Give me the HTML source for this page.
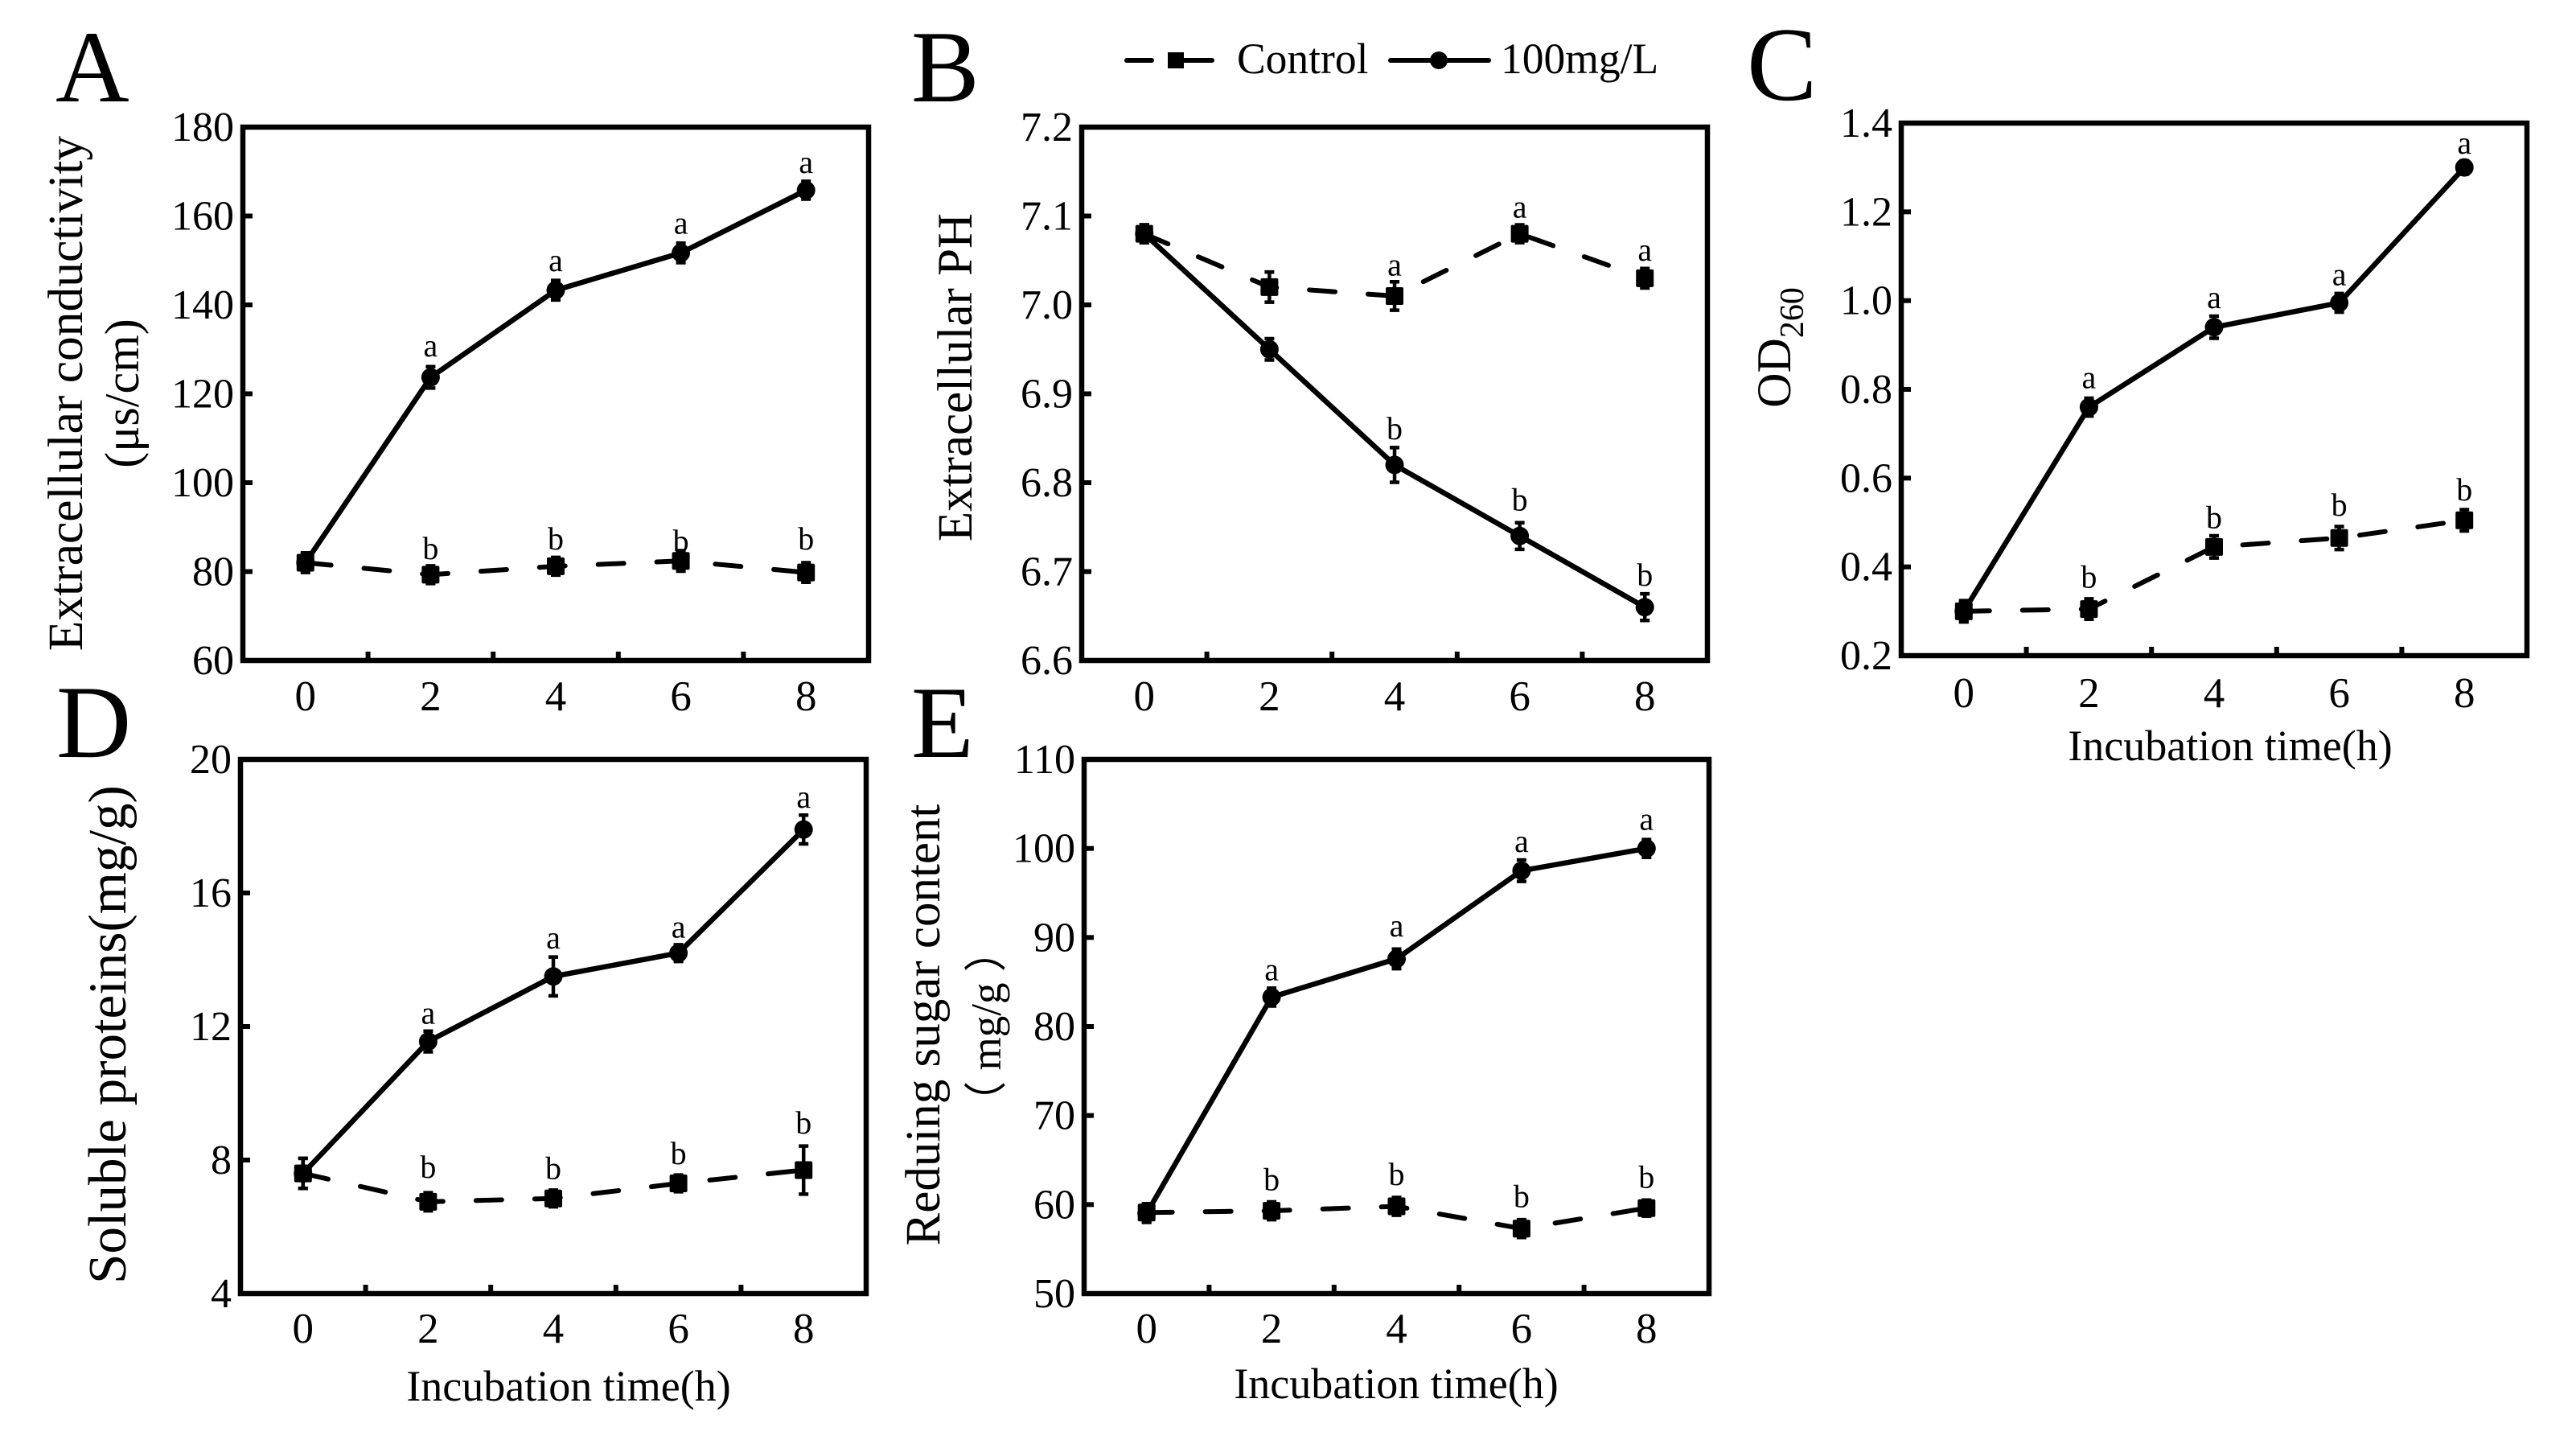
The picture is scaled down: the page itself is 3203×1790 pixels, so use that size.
<!DOCTYPE html>
<html lang="en">
<head>
<meta charset="utf-8">
<title>Incubation time response panels</title>
<style>
  html, body { margin: 0; padding: 0; background: #fff; }
  svg { display: block; }
  text { font-family: "Liberation Serif", "Noto Sans CJK SC", serif; fill: #000; }
</style>
</head>
<body>
<svg id="figure" xmlns="http://www.w3.org/2000/svg" width="3203" height="1790" viewBox="0 0 3203 1790">
  <rect x="0" y="0" width="3203" height="1790" fill="#fff"/>

  <text x="69" y="126" font-size="127">A</text>
  <text x="1133" y="126" font-size="127">B</text>
  <text x="2172" y="124" font-size="131">C</text>
  <text x="70" y="941" font-size="129">D</text>
  <text x="1133" y="941" font-size="127">E</text>

  <g>
    <line x1="1401" y1="75" x2="1432" y2="75" stroke="#000" stroke-width="6" stroke-linecap="round"/>
    <line x1="1462" y1="75" x2="1507" y2="75" stroke="#000" stroke-width="6" stroke-linecap="round"/>
    <rect x="1452" y="65" width="20" height="20" fill="#000"/>
    <text x="1538" y="91" font-size="53.5">Control</text>
    <line x1="1729" y1="75" x2="1851" y2="75" stroke="#000" stroke-width="6" stroke-linecap="round"/>
    <circle cx="1789" cy="75" r="11" fill="#000"/>
    <text x="1866" y="91" font-size="53.5">100mg/L</text>
  </g>

  <text transform="translate(102,489) rotate(-90)" text-anchor="middle" font-size="61.5">Extracellular conductivity</text>
  <text transform="translate(172,489) rotate(-90)" text-anchor="middle" font-size="60">(μs/cm)</text>
  <text transform="translate(1208,469) rotate(-90)" text-anchor="middle" font-size="61">Extracellular PH</text>
  <text transform="translate(2226,432) rotate(-90)" text-anchor="middle" font-size="60">OD<tspan dy="16" font-size="42">260</tspan></text>
  <text transform="translate(156,1286) rotate(-90)" text-anchor="middle" font-size="67">Soluble proteins(mg/g)</text>
  <text transform="translate(1168,1274) rotate(-90)" text-anchor="middle" font-size="61">Reduing sugar content</text>
  <text transform="translate(1244,1276) rotate(-90)" text-anchor="middle" font-size="53">（ mg/g ）</text>

  <text x="2773" y="945" text-anchor="middle" font-size="54">Incubation time(h)</text>
  <text x="707" y="1741" text-anchor="middle" font-size="54">Incubation time(h)</text>
  <text x="1736" y="1738" text-anchor="middle" font-size="54">Incubation time(h)</text>
</svg>

<script>
// Shared x axis
const hours = [0, 2, 4, 6, 8];
const hourTicks = ['0', '2', '4', '6', '8'];
const minorHours = [1, 3, 5, 7];

// Panel A: extracellular conductivity
const aTicks = [60, 80, 100, 120, 140, 160, 180];
const aTickLabels = ['60', '80', '100', '120', '140', '160', '180'];
const aControl = [82, 79.3, 81.2, 82.4, 79.8];
const aControlErr = [2.2, 2, 2, 2.3, 2.2];
const aTreated = [82, 123.7, 143.3, 151.7, 165.8];
const aTreatedErr = [1.8, 2.4, 2.2, 2.2, 2];
const aControlLetters = ['', 'b', 'b', 'b', 'b'];
const aControlLift = [0, 3.5, 3.8, 2, 5.2];
const aTreatedLetters = ['', 'a', 'a', 'a', 'a'];
const aTreatedLift = [0, 4.7, 4.3, 4.3, 3.9];

// Panel B: extracellular pH
const bTicks = [6.6, 6.7, 6.8, 6.9, 7.0, 7.1, 7.2];
const bTickLabels = ['6.6', '6.7', '6.8', '6.9', '7.0', '7.1', '7.2'];
const bControl = [7.08, 7.02, 7.01, 7.08, 7.03];
const bControlErr = [0.01, 0.017, 0.016, 0.01, 0.011];
const bTreated = [7.08, 6.95, 6.82, 6.74, 6.66];
const bTreatedErr = [0.01, 0.012, 0.0195, 0.015, 0.015];
const bControlLetters = ['', '', 'a', 'a', 'a'];
const bControlLift = [0, 0, 0.023, 0.018, 0.02];
const bTreatedLetters = ['', '', 'b', 'b', 'b'];
const bTreatedLift = [0, 0, 0.029, 0.029, 0.024];

// Panel C: OD260
const cTicks = [0.2, 0.4, 0.6, 0.8, 1.0, 1.2, 1.4];
const cTickLabels = ['0.2', '0.4', '0.6', '0.8', '1.0', '1.2', '1.4'];
const cControl = [0.3, 0.305, 0.445, 0.465, 0.505];
const cControlErr = [0.024, 0.023, 0.025, 0.026, 0.024];
const cTreated = [0.3, 0.76, 0.94, 0.995, 1.3];
const cTreatedErr = [0.023, 0.02, 0.025, 0.021, 0.015];
const cControlLetters = ['', 'b', 'b', 'b', 'b'];
const cControlLift = [0, 0.048, 0.042, 0.05, 0.045];
const cTreatedLetters = ['', 'a', 'a', 'a', 'a'];
const cTreatedLift = [0, 0.043, 0.043, 0.04, 0.031];

// Panel D: soluble proteins
const dTicks = [4, 8, 12, 16, 20];
const dTickLabels = ['4', '8', '12', '16', '20'];
const dControl = [7.6, 6.75, 6.85, 7.3, 7.7];
const dControlErr = [0.45, 0.27, 0.25, 0.25, 0.72];
const dTreated = [7.6, 11.55, 13.5, 14.2, 17.9];
const dTreatedErr = [0.45, 0.31, 0.58, 0.25, 0.43];
const dControlLetters = ['', 'b', 'b', 'b', 'b'];
const dControlLift = [0, 0.72, 0.58, 0.58, 1.09];
const dTreatedLetters = ['', 'a', 'a', 'a', 'a'];
const dTreatedLift = [0, 0.53, 0.84, 0.46, 0.65];

// Panel E: reducing sugar content
const eTicks = [50, 60, 70, 80, 90, 100, 110];
const eTickLabels = ['50', '60', '70', '80', '90', '100', '110'];
const eControl = [59.1, 59.3, 59.8, 57.3, 59.6];
const eControlErr = [1, 1, 1, 1, 0.9];
const eTreated = [59, 83.3, 87.6, 97.5, 100];
const eTreatedErr = [1, 1, 1.1, 1.2, 1];
const eControlLetters = ['', 'b', 'b', 'b', 'b'];
const eControlLift = [0, 2.3, 2.4, 2.4, 2.3];
const eTreatedLetters = ['', 'a', 'a', 'a', 'a'];
const eTreatedLift = [0, 1.9, 2.5, 2.1, 2.1];

const SVG_NS = 'http://www.w3.org/2000/svg';
const figure = document.getElementById('figure');

function make(parent, tag, attrs) {
  const el = document.createElementNS(SVG_NS, tag);
  for (const k in attrs) el.setAttribute(k, attrs[k]);
  parent.appendChild(el);
  return el;
}

function drawSeries(g, id, xs, ys, errs, letters, lifts, x, y, filled) {
  const points = xs.map((h, i) => x(h) + ',' + y(ys[i])).join(' ');
  const attrs = { points: points, fill: 'none', stroke: '#000', 'stroke-width': filled ? 6.5 : 6, 'stroke-linejoin': 'round' };
  if (!filled) {
    attrs['stroke-dasharray'] = '32 41';
    attrs['stroke-linecap'] = 'round';
  }
  const line = make(g, 'polyline', attrs);
  
  

  xs.forEach((h, i) => {
    const px = x(h);
    const py = y(ys[i]);
    const top = y(ys[i] + errs[i]);
    const bottom = y(ys[i] - errs[i]);

    const err = make(g, 'path', {
      d: 'M' + px + ' ' + top + 'V' + bottom + 'M' + (px - 6) + ' ' + top + 'H' + (px + 6) + 'M' + (px - 6) + ' ' + bottom + 'H' + (px + 6),
      fill: 'none', stroke: '#000', 'stroke-width': 4.5
    });
    
    

    const marker = filled
      ? make(g, 'circle', { cx: px, cy: py, r: 11.5, fill: '#000' })
      : make(g, 'rect', { x: px - 11, y: py - 11, width: 22, height: 22, rx: 2, fill: '#000' });
    
    

    if (letters[i]) {
      const t = make(g, 'text', { x: px, y: y(ys[i] + lifts[i]), 'text-anchor': 'middle', 'font-size': 40 });
      t.textContent = letters[i];
      
      
    }
  });
}

function drawPanel(cfg) {
  const g = make(figure, 'g', {});
  
  

  const first = cfg.ticks[0];
  const last = cfg.ticks[cfg.ticks.length - 1];
  const x = h => cfg.left + (h + 1) * (cfg.right - cfg.left) / 10;
  const y = v => cfg.bottom - (v - first) * (cfg.bottom - cfg.top) / (last - first);

  const box = make(g, 'rect', {
    x: cfg.left, y: cfg.top, width: cfg.right - cfg.left, height: cfg.bottom - cfg.top,
    fill: 'none', stroke: '#000', 'stroke-width': 6.5
  });
  
  

  cfg.ticks.forEach((v, i) => {
    const tick = make(g, 'line', { x1: cfg.left, x2: cfg.left + 12, y1: y(v), y2: y(v), stroke: '#000', 'stroke-width': 6 });
    
    
    const label = make(g, 'text', { x: cfg.left - 11, y: y(v) + 17, 'text-anchor': 'end', 'font-size': 52 });
    label.textContent = cfg.tickLabels[i];
    
    
  });

  minorHours.forEach(h => {
    const tick = make(g, 'line', { x1: x(h), x2: x(h), y1: cfg.bottom, y2: cfg.bottom - 11, stroke: '#000', 'stroke-width': 6 });
    
    
  });

  hours.forEach((h, i) => {
    const label = make(g, 'text', { x: x(h), y: cfg.bottom + cfg.xLabelDrop, 'text-anchor': 'middle', 'font-size': 53 });
    label.textContent = hourTicks[i];
    
    
  });

  drawSeries(g, 'treated-100mg-l', hours, cfg.treated, cfg.treatedErr, cfg.treatedLetters, cfg.treatedLift, x, y, true);
  drawSeries(g, 'control', hours, cfg.control, cfg.controlErr, cfg.controlLetters, cfg.controlLift, x, y, false);
}

drawPanel({ id: 'a', left: 302, right: 1080, top: 158, bottom: 821, xLabelDrop: 62,
  ticks: aTicks, tickLabels: aTickLabels, control: aControl, controlErr: aControlErr, treated: aTreated, treatedErr: aTreatedErr,
  controlLetters: aControlLetters, controlLift: aControlLift, treatedLetters: aTreatedLetters, treatedLift: aTreatedLift });
drawPanel({ id: 'b', left: 1345, right: 2123, top: 158, bottom: 821, xLabelDrop: 62,
  ticks: bTicks, tickLabels: bTickLabels, control: bControl, controlErr: bControlErr, treated: bTreated, treatedErr: bTreatedErr,
  controlLetters: bControlLetters, controlLift: bControlLift, treatedLetters: bTreatedLetters, treatedLift: bTreatedLift });
drawPanel({ id: 'c', left: 2364, right: 3142, top: 153, bottom: 815, xLabelDrop: 64,
  ticks: cTicks, tickLabels: cTickLabels, control: cControl, controlErr: cControlErr, treated: cTreated, treatedErr: cTreatedErr,
  controlLetters: cControlLetters, controlLift: cControlLift, treatedLetters: cTreatedLetters, treatedLift: cTreatedLift });
drawPanel({ id: 'd', left: 299, right: 1077, top: 944, bottom: 1608, xLabelDrop: 61,
  ticks: dTicks, tickLabels: dTickLabels, control: dControl, controlErr: dControlErr, treated: dTreated, treatedErr: dTreatedErr,
  controlLetters: dControlLetters, controlLift: dControlLift, treatedLetters: dTreatedLetters, treatedLift: dTreatedLift });
drawPanel({ id: 'e', left: 1348, right: 2125, top: 944, bottom: 1608, xLabelDrop: 61,
  ticks: eTicks, tickLabels: eTickLabels, control: eControl, controlErr: eControlErr, treated: eTreated, treatedErr: eTreatedErr,
  controlLetters: eControlLetters, controlLift: eControlLift, treatedLetters: eTreatedLetters, treatedLift: eTreatedLift });
</script>
</body>
</html>
